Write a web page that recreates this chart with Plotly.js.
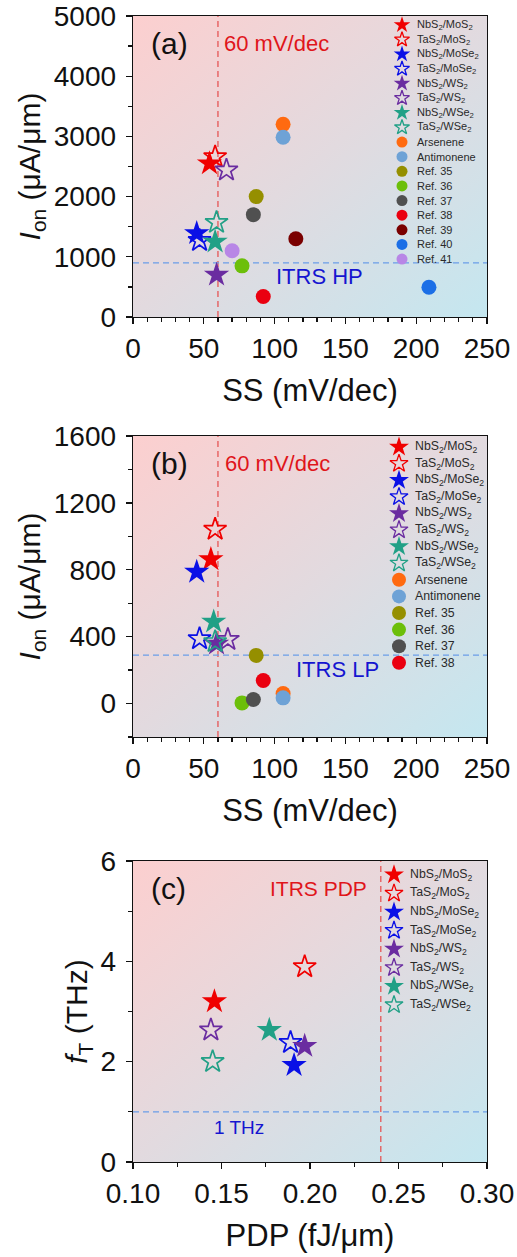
<!DOCTYPE html>
<html><head><meta charset="utf-8">
<script src="https://cdn.plot.ly/plotly-3.0.1.min.js"></script>
<style>html,body{margin:0;padding:0;background:#fff}</style>
</head><body><div id="chart" style="width:517px;height:1257px"></div>
<script>
// ---------- data ----------
const seriesLabels = ['NbS<sub>2</sub>/MoS<sub>2</sub>','TaS<sub>2</sub>/MoS<sub>2</sub>','NbS<sub>2</sub>/MoSe<sub>2</sub>','TaS<sub>2</sub>/MoSe<sub>2</sub>','NbS<sub>2</sub>/WS<sub>2</sub>','TaS<sub>2</sub>/WS<sub>2</sub>','NbS<sub>2</sub>/WSe<sub>2</sub>','TaS<sub>2</sub>/WSe<sub>2</sub>','Arsenene','Antimonene','Ref. 35','Ref. 36','Ref. 37','Ref. 38','Ref. 39','Ref. 40','Ref. 41'];
// (a) high performance (17 series)
const hpSS  = [54, 58, 45, 47, 59, 66, 58, 59, 106, 106, 87, 77, 85, 92, 115, 209, 70];
const hpIon = [2550, 2660, 1390, 1270, 700, 2440, 1250, 1570, 3200, 2985, 2000, 850, 1700, 340, 1300, 495, 1100];
// (b) low power (first 14 series)
const lpSS  = [55, 58, 45, 47, 59, 67, 57, 58, 106, 106, 87, 77, 85, 92];
const lpIon = [862, 1042, 787, 387, 357, 383, 489, 370, 60, 34, 288, 4, 24, 138];
// (c) RF (first 8 series)
const rfPDP = [0.146, 0.197, 0.191, 0.189, 0.197, 0.144, 0.177, 0.145];
const rfFT  = [3.2, 3.89, 1.93, 2.38, 2.31, 2.63, 2.63, 2.0];
// reference limits
const limitSS = 60, itrsHP = 900, itrsLP = 290, itrsPDP = 0.24, limitFT = 1;

// ---------- styles ----------
const seriesColors = ['#f00000','#f00000','#0a10e6','#0a10e6','#6a2ca0','#6a2ca0','#21a086','#21a086','#ff6a10','#6ea2d6','#958f00','#6cbf0a','#505050','#ea0010','#7a0000','#1c6fe6','#b886e6'];
const seriesSymbols = ['star','star-open','star','star-open','star','star-open','star','star-open','circle','circle','circle','circle','circle','circle','circle','circle','circle'];

const FONT = 'Liberation Sans, Arial, sans-serif';
const W = 354, H = 301;
const xDom = [133/517, 487/517];
const yDomA = [1-317/1257, 1-16/1257];
const yDomB = [1-737/1257, 1-436/1257];
const yDomC = [1-1162/1257, 1-861/1257];

function markerFor(n, starSize, circSize, openW) {
  const cols = seriesColors.slice(0, n), syms = seriesSymbols.slice(0, n);
  return {
    color: cols, symbol: syms, opacity: 1,
    size: syms.map(s => s === 'circle' ? circSize : (s === 'star-open' ? starSize*0.9 : starSize)),
    line: {color: cols, width: syms.map(s => s === 'star-open' ? openW : 0)}
  };
}

const traces = [
  {type:'scatter', mode:'markers', x: hpSS, y: hpIon, xaxis:'x', yaxis:'y', marker: markerFor(hpSS.length, 19, 15, 1.7), hoverinfo:'x+y'},
  {type:'scatter', mode:'markers', x: lpSS, y: lpIon, xaxis:'x2', yaxis:'y2', marker: markerFor(lpSS.length, 19, 15, 1.7), hoverinfo:'x+y'},
  {type:'scatter', mode:'markers', x: rfPDP, y: rfFT, xaxis:'x3', yaxis:'y3', marker: markerFor(rfPDP.length, 19, 15, 1.7), hoverinfo:'x+y'}
];

// custom legends drawn on pixel-scaled overlay axes
const legendCfg = [
  {n:hpSS.length,  xa:'x4', ya:'y4', markX:269, textX:282, top:9,    step:14.63, font:11,   star:12.5, circ:11},
  {n:lpSS.length,  xa:'x5', ya:'y5', markX:266, textX:280, top:11,   step:16.6,  font:12.3, star:15,   circ:14},
  {n:rfPDP.length, xa:'x6', ya:'y6', markX:261, textX:275, top:13.7, step:18.6,  font:12.3, star:15,   circ:14}
];
const annotations = [];
legendCfg.forEach(cfg => {
  const idx = [...Array(cfg.n).keys()];
  traces.push({type:'scatter', mode:'markers', xaxis:cfg.xa, yaxis:cfg.ya,
    x: idx.map(() => cfg.markX), y: idx.map(i => cfg.top + i*cfg.step),
    marker: markerFor(cfg.n, cfg.star, cfg.circ, 1.3), hoverinfo:'skip'});
  idx.forEach(i => annotations.push({xref:cfg.xa, yref:cfg.ya, x:cfg.textX, y:cfg.top + i*cfg.step,
    text: seriesLabels[i], showarrow:false, xanchor:'left', yanchor:'middle',
    font:{family:FONT, size:cfg.font, color:'#2a2a2a'}}));
});

const RED = '#e0151b', BLUE = '#1515d0';
const axisCommon = {
  showline:true, linecolor:'#111', linewidth:1.3, mirror:true, showgrid:false, zeroline:false,
  ticks:'outside', ticklen:6, tickwidth:1.3, tickcolor:'#111',
  tickfont:{family:FONT, size:28, color:'#111'}
};
function xa(range, dtick, minor, anchor, title, fmt) {
  return Object.assign({}, axisCommon, {domain:xDom, anchor, range, autorange:false, tick0:range[0], dtick,
    tickformat: fmt || '', minor:{dtick:minor, ticks:'outside', ticklen:3.5, tickwidth:1.3, tickcolor:'#111', showgrid:false},
    title:{text:title, font:{family:FONT, size:31, color:'#111'}, standoff:16}});
}
function ya(dom, range, dtick, minor, anchor, title) {
  return Object.assign({}, axisCommon, {domain:dom, anchor, range, autorange:false, tick0:0, dtick,
    ticklabelstandoff:4,
    minor:{dtick:minor, ticks:'outside', ticklen:3.5, tickwidth:1.3, tickcolor:'#111', showgrid:false},
    title:{text:title, font:{family:FONT, size:30, color:'#111'}, standoff:4}});
}
const hidden = (dom, anchor, range) => ({domain:dom, anchor, range, autorange:false, visible:false, fixedrange:true});

const bgSvg = "<svg xmlns='http://www.w3.org/2000/svg' width='100' height='100' viewBox='0 0 100 100' preserveAspectRatio='none'><defs><linearGradient id='g' x1='0' y1='0' x2='1' y2='1'><stop offset='0' stop-color='#fccfcf'/><stop offset='0.5' stop-color='#e2dadf'/><stop offset='1' stop-color='#c4e7f0'/></linearGradient></defs><rect width='100' height='100' fill='url(#g)'/></svg>";
const bgSrc = 'data:image/svg+xml;base64,' + btoa(bgSvg);
const images = [yDomA, yDomB, yDomC].map(d => ({source:bgSrc, xref:'paper', yref:'paper', x:xDom[0], y:d[1],
  sizex:xDom[1]-xDom[0], sizey:d[1]-d[0], xanchor:'left', yanchor:'top', sizing:'stretch', layer:'below'}));

const dashRed = {color:'#e65555', width:1.3, dash:'6px,4px'};
const dashBlue = {color:'#6b9de8', width:1.3, dash:'6px,4px'};
const shapes = [
  {type:'line', xref:'x', yref:'y domain', x0:limitSS, x1:limitSS, y0:0, y1:1, line:dashRed, layer:'below'},
  {type:'line', xref:'x domain', yref:'y', x0:0, x1:1, y0:itrsHP, y1:itrsHP, line:dashBlue, layer:'below'},
  {type:'line', xref:'x2', yref:'y2 domain', x0:limitSS, x1:limitSS, y0:0, y1:1, line:dashRed, layer:'below'},
  {type:'line', xref:'x2 domain', yref:'y2', x0:0, x1:1, y0:itrsLP, y1:itrsLP, line:dashBlue, layer:'below'},
  {type:'line', xref:'x3', yref:'y3 domain', x0:itrsPDP, x1:itrsPDP, y0:0, y1:1, line:dashRed, layer:'below'},
  {type:'line', xref:'x3 domain', yref:'y3', x0:0, x1:1, y0:limitFT, y1:limitFT, line:dashBlue, layer:'below'}
];

function txt(xr, yr, x, y, text, color, size, anchor) {
  return {xref:xr, yref:yr, x, y, text, showarrow:false, xanchor:anchor||'center', yanchor:'middle',
    font:{family:FONT, size, color}};
}
annotations.push(
  txt('x domain','y domain',0.103,0.91,'(a)','#111',30),
  txt('x domain','y domain',0.25,0.91,'60 mV/dec',RED,22,'left'),
  txt('x domain','y domain',0.528,0.136,'ITRS HP',BLUE,22),
  txt('x2 domain','y2 domain',0.103,0.91,'(b)','#111',30),
  txt('x2 domain','y2 domain',0.253,0.91,'60 mV/dec',RED,22,'left'),
  txt('x2 domain','y2 domain',0.579,0.223,'ITRS LP',BLUE,22),
  txt('x3 domain','y3 domain',0.1,0.91,'(c)','#111',30),
  txt('x3 domain','y3 domain',0.523,0.91,'ITRS PDP',RED,21),
  txt('x3 domain','y3 domain',0.299,0.116,'1 THz',BLUE,19)
);

const ionTitle = '<i>I</i><sub>on</sub> (μA/μm)';
const layout = {
  width:517, height:1257, margin:{l:0,r:0,t:0,b:0},
  paper_bgcolor:'#ffffff', plot_bgcolor:'rgba(0,0,0,0)', showlegend:false,
  font:{family:FONT, color:'#111'},
  xaxis: xa([0,250], 50, 10, 'y', 'SS (mV/dec)'),
  yaxis: ya(yDomA, [0,5000], 1000, 500, 'x', ionTitle),
  xaxis2: xa([0,250], 50, 10, 'y2', 'SS (mV/dec)'),
  yaxis2: ya(yDomB, [-200,1600], 400, 200, 'x2', ionTitle),
  xaxis3: xa([0.1,0.3], 0.05, 0.025, 'y3', 'PDP (fJ/μm)', '.2f'),
  yaxis3: ya(yDomC, [0,6], 2, 1, 'x3', '<i>f</i><sub>T</sub> (THz)'),
  xaxis4: hidden(xDom, 'y4', [0,W]), yaxis4: hidden(yDomA, 'x4', [H,0]),
  xaxis5: hidden(xDom, 'y5', [0,W]), yaxis5: hidden(yDomB, 'x5', [H,0]),
  xaxis6: hidden(xDom, 'y6', [0,W]), yaxis6: hidden(yDomC, 'x6', [H,0]),
  images, shapes, annotations
};
Plotly.newPlot('chart', traces, layout, {displayModeBar:false, staticPlot:true});
</script>
</body></html>
